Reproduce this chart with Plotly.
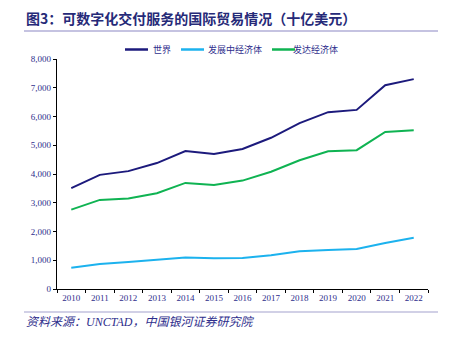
import plotly.graph_objects as go

years = ["2010", "2011", "2012", "2013", "2014", "2015", "2016", "2017", "2018", "2019", "2020", "2021", "2022"]
world = [3510, 3970, 4100, 4380, 4800, 4700, 4870, 5260, 5770, 6150, 6230, 7090, 7300]
developing = [740, 870, 940, 1010, 1100, 1070, 1080, 1170, 1310, 1360, 1390, 1600, 1780]
developed = [2760, 3100, 3150, 3330, 3690, 3620, 3770, 4080, 4480, 4790, 4830, 5460, 5520]
y_ticks = [0, 1000, 2000, 3000, 4000, 5000, 6000, 7000, 8000]
series_names = ["世界", "发展中经济体", "发达经济体"]
series_colors = ["#1c1a7c", "#1cb2ee", "#0fb352"]

L, R, T, B = 57, 25, 59, 54
PW, PH = 453 - L - R, 343 - T - B


def px(xp):
    return (xp - L) / PW


def py(yp):
    return (343 - B - yp) / PH


fig = go.Figure()
for name, vals, col in zip(series_names, [world, developing, developed], series_colors):
    fig.add_trace(go.Scatter(x=years, y=vals, mode="lines", name=name,
                             line=dict(color=col, width=2), showlegend=False))

fig.update_layout(
    width=453, height=343,
    margin=dict(l=L, r=R, t=T, b=B),
    paper_bgcolor="white", plot_bgcolor="white",
    separators=".,",
    font=dict(family="Liberation Serif, Noto Sans CJK SC", size=9, color="#2e2e8c"),
    xaxis=dict(type="category", range=[-0.5, 12.5], showline=True, linecolor="black", linewidth=1.2,
               ticks="outside", tickson="boundaries", ticklen=3, tickcolor="black",
               showgrid=False, tickfont=dict(size=9, color="#2e2e8c")),
    yaxis=dict(range=[0, 8000], tickvals=y_ticks, tickformat=",", showline=True, linecolor="black",
               linewidth=1.2, ticks="outside", ticklen=3, tickcolor="black", showgrid=False,
               zeroline=False, tickfont=dict(size=9, color="#2e2e8c")),
)

# manual legend
leg_y = py(49.5)
for name, col, x0, x1, xt in zip(series_names, series_colors, [125, 181, 272], [148, 204, 295], [151, 206, 291]):
    fig.add_shape(type="line", xref="paper", yref="paper", x0=px(x0), x1=px(x1), y0=leg_y, y1=leg_y,
                  line=dict(color=col, width=2.5))
    fig.add_annotation(text=name, xref="paper", yref="paper", x=px(xt), y=leg_y,
                       xanchor="left", yanchor="middle", showarrow=False,
                       font=dict(family="Noto Sans CJK SC", size=9, color="#2e2e8c"))

fig.add_annotation(text="<b>图3：可数字化交付服务的国际贸易情况（十亿美元）</b>",
                   xref="paper", yref="paper", x=px(24), y=py(18),
                   xanchor="left", yanchor="middle", showarrow=False,
                   font=dict(family="Noto Sans CJK SC", size=14, color="#262a78"))
fig.add_annotation(text="<i>资料来源：UNCTAD，中国银河证券研究院</i>",
                   xref="paper", yref="paper", x=px(24), y=py(322),
                   xanchor="left", yanchor="middle", showarrow=False,
                   font=dict(family="Liberation Serif, Noto Sans CJK SC", size=12, color="#2e2e8c"))
fig.add_shape(type="line", xref="paper", yref="paper",
              x0=px(24), x1=px(438), y0=py(31), y1=py(31),
              line=dict(color="#8c88c4", width=1.2))
fig.add_shape(type="line", xref="paper", yref="paper",
              x0=px(24), x1=px(438), y0=py(312), y1=py(312),
              line=dict(color="#c2c0de", width=1.5))

fig.write_html("out.html")
